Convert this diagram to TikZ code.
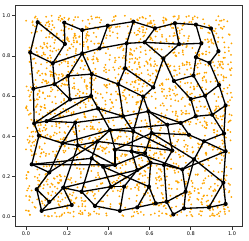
\documentclass[tikz,border=0pt]{standalone}
\usepackage{fontspec}
\setmainfont{DejaVu Sans}
\usepackage{tikz}
\definecolor{dotorange}{HTML}{FFA500}
\tikzset{
  vtx/.style   = {circle,fill=black,inner sep=0pt,minimum size=4.2pt},
  edge/.style  = {black,line width=1.3pt},
  sample/.style= {fill=dotorange},
  frameline/.style = {black!80,line width=0.6pt}
}
\newcommand{\plotframe}{%
  \draw[frameline] (-0.05,-0.05) rectangle (1.05,1.05);
  \foreach \t/\lab in {0/0.0,0.2/0.2,0.4/0.4,0.6/0.6,0.8/0.8,1/1.0}{
    \draw[frameline] (\t,-0.05) -- ++(0,-3.5pt) node[below,inner sep=1.5pt,font=\fontsize{5}{6}\selectfont,black]{\lab};
    \draw[frameline] (-0.05,\t) -- ++(-3.5pt,0) node[left,inner sep=1.5pt,font=\fontsize{5}{6}\selectfont,black]{\lab};
  }
}

\begin{document}
\begin{tikzpicture}[x=206pt,y=201pt]
  \useasboundingbox (-0.126,-0.1164) rectangle (1.0825,1.0776);
  \plotframe
  % sample points
  \pgfmathsetseed{4242}
  \foreach \i in {1,...,2000}{
    \fill[sample] (rnd,rnd) circle (1pt);
  }
  % network nodes
  \foreach \n/\x/\y in {a1/0.057/0.967,a2/0.186/0.965,a3/0.273/0.928,a4/0.397/0.950,a5/0.521/0.970,
      a6/0.626/0.937,a7/0.723/0.962,a8/0.825/0.955,a9/0.898/0.936,
      b1/0.021/0.817,b2/0.189/0.859,b3/0.273/0.812,b4/0.357/0.837,b5/0.489/0.862,
      b6/0.576/0.867,b7/0.743/0.858,b8/0.851/0.862,b9/0.934/0.823,
      c1/0.130/0.763,c2/0.205/0.700,c3/0.319/0.709,c4/0.481/0.738,c5/0.667/0.787,c6/0.825/0.793,c7/0.891/0.765,
      d1/0.036/0.636,d2/0.139/0.659,d3/0.448/0.659,d4/0.718/0.675,d5/0.813/0.702,d6/0.937/0.655,
      e1/0.214/0.583,e2/0.316/0.600,e3/0.618/0.643,e4/0.569/0.597,e5/0.800/0.585,e6/0.869/0.601,e7/0.969/0.553,
      f1/0.350/0.538,f2/0.472/0.499,f3/0.594/0.524,f4/0.824/0.499,f5/0.904/0.507,
      g1/0.040/0.464,g2/0.100/0.475,g3/0.239/0.468,g4/0.408/0.431,g5/0.521/0.424,
      g6/0.610/0.416,g7/0.686/0.457,g8/0.751/0.466,g9/0.961/0.414,
      h1/0.063/0.403,h2/0.177/0.365,h3/0.252/0.354,h4/0.347/0.374,h5/0.432/0.333,h6/0.513/0.325,
      h7/0.578/0.316,h8/0.710/0.329,h9/0.791/0.407,h10/0.864/0.375,h11/0.969/0.325,h12/0.816/0.285,
      i1/0.028/0.260,i2/0.113/0.220,i3/0.319/0.290,i4/0.375/0.248,i5/0.432/0.257,
      i6/0.540/0.232,i7/0.605/0.268,i8/0.670/0.257,i9/0.759/0.235,
      j1/0.052/0.136,j2/0.181/0.144,j3/0.270/0.124,j4/0.413/0.149,j5/0.476/0.149,
      j6/0.597/0.149,j7/0.775/0.124,j8/0.958/0.169,
      k1/0.076/0.029,k2/0.113/0.074,k3/0.222/0.058,k4/0.335/0.053,k5/0.456/0.029,k6/0.540/0.046,
      k7/0.630/0.066,k8/0.683/0.074,k9/0.715/0.011,k10/0.767/0.041,k11/0.888/0.046,k12/0.969/0.063}{
    \node[vtx] (\n) at (\x,\y) {};
  }
  % network edges
  \foreach \u/\v in {a1/b1,a1/b2,a2/b2,a2/a3,a3/a4,a3/b3,a4/a5,a4/b4,a5/a6,a5/b5,a6/a7,a6/b6,
      a7/a8,a7/b7,a8/a9,a8/b8,a9/b9,
      b1/c1,b1/d1,b2/c1,b3/c1,b3/b4,b3/c2,b3/c3,b4/b5,b5/b6,b5/c4,b6/b7,b6/c5,b7/b8,b8/c6,
      b9/c7,c6/c7,c6/d5,c5/b7,
      c1/d2,c2/c3,c2/d2,c2/e1,c3/d3,c3/e2,c4/d3,c4/e3,c5/d4,c5/e3,d4/d5,d4/e5,d5/e6,c7/d6,d6/e6,d6/e7,
      d1/d2,d1/g1,d2/e1,e1/e2,e1/g1,e2/f1,e2/g2,d3/e4,d3/f2,e3/e4,e4/f3,e5/f4,e5/e6,e7/f5,
      f4/f5,f4/g8,f5/g9,e7/g9,e6/f5,
      f1/g2,f1/g4,f1/f2,f2/g5,f2/f3,f3/g7,f3/g6,g7/g8,g8/h9,g7/h8,g6/h7,g5/h6,g4/h5,g4/g5,
      g3/g2,g3/h3,g3/h2,g1/g2,g1/h1,h1/h2,h2/h3,h3/h4,h4/g4,h4/i3,h5/h6,h6/h7,h7/i7,
      h9/h10,h10/g9,h10/h11,h11/g9,h12/h10,h12/i9,h8/i8,i7/i8,i8/i9,i6/i7,i6/h6,i5/h5,i4/i3,i4/i5,
      i1/i3,i1/i5,i1/i2,i1/h1,i2/j1,i2/h2,j1/k1,j1/k2,k1/k3,k1/j2,j2/j3,j2/h3,j3/k4,j3/i3,k3/j2,
      k4/j4,k4/k5,j4/i4,j4/j5,j5/k5,j5/i6,k5/k6,k6/j6,k6/k7,j6/i7,j6/k7,k7/k8,k8/j7,k8/k9,
      k9/k10,k10/j7,k10/k11,k11/j8,k11/k12,k12/j8,j7/i9,j8/h11,j7/h12,
      g4/g7,h4/h8,g3/f2,h3/i5,i2/h4,j2/i6,h5/g6,g5/h8,i9/h11,g6/h9,e4/g5,f3/g8,h12/j8,i8/k8,j3/j4,
      h2/g4,i5/h7,j4/i7,h6/i9,g6/h12,i4/j6}{
    \draw[edge] (\u.center) -- (\v.center);
  }
\end{tikzpicture}
\end{document}
